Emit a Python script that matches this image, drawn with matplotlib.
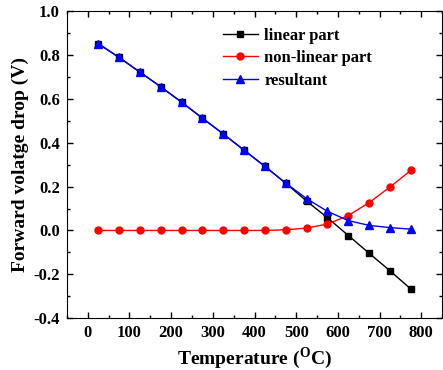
import numpy as np
import matplotlib.pyplot as plt
from matplotlib.ticker import MultipleLocator

plt.rcParams['font.family'] = ['Liberation Serif', 'DejaVu Serif']
plt.rcParams['font.weight'] = 'bold'
plt.rcParams['mathtext.fontset'] = 'custom'
plt.rcParams['mathtext.rm'] = 'Liberation Serif:bold'
plt.rcParams['mathtext.bf'] = 'Liberation Serif:bold'

# данные
temp = [25, 75, 125, 175, 225, 275, 325, 375, 425, 475, 525, 575, 625, 675, 725, 775]
linear = [0.852, 0.789, 0.722, 0.655, 0.585, 0.512, 0.440, 0.366, 0.292, 0.215,
          0.134, 0.058, -0.023, -0.104, -0.184, -0.267]
nonlinear = [0.0, 0.0, 0.0, 0.0, 0.0, 0.0, 0.0, 0.0, 0.0, 0.003,
             0.011, 0.029, 0.068, 0.127, 0.198, 0.274]
resultant = [0.852, 0.789, 0.722, 0.655, 0.585, 0.512, 0.440, 0.366, 0.292, 0.216,
             0.145, 0.087, 0.045, 0.023, 0.013, 0.006]

fig = plt.figure(figsize=(4.43, 3.70), dpi=100)
ax = fig.add_axes([0.151, 0.14, 0.847, 0.83])

ax.plot(temp, linear, color='black', marker='s', markersize=5, linewidth=1, label='linear part')
ax.plot(temp, nonlinear, color='red', marker='o', markersize=5, linewidth=1, label='non-linear part')
ax.plot(temp, resultant, color='blue', marker='^', markersize=6, linewidth=1, label='resultant')

ax.set_xlim(-50, 850)
ax.set_ylim(-0.4, 1.0)
ax.xaxis.set_major_locator(MultipleLocator(100))
ax.xaxis.set_minor_locator(MultipleLocator(50))
ax.yaxis.set_major_locator(MultipleLocator(0.2))
ax.yaxis.set_minor_locator(MultipleLocator(0.1))
ax.tick_params(which='both', direction='in', top=True, right=True, labelsize=12, width=1)
ax.tick_params(which='major', length=4, pad=5)
ax.tick_params(which='minor', length=2.5)
ax.xaxis.set_major_formatter(plt.FuncFormatter(lambda v, p: '%d' % v if 0 <= v <= 800 else ''))
ax.yaxis.set_major_formatter(plt.FuncFormatter(lambda v, p: '%.1f' % v))

ax.set_xlabel(r'Temperature ($^{\mathrm{O}}$C)', fontsize=14, fontweight='bold', labelpad=3)
ax.set_ylabel('Forward volatge drop (V)', fontsize=14, fontweight='bold', labelpad=3)

ax.legend(loc='upper left', bbox_to_anchor=(0.375, 0.995), frameon=False, fontsize=12,
          handlelength=2.1, handletextpad=0.4, labelspacing=0.4)

fig.savefig('out.png', dpi=100)
print('done')
